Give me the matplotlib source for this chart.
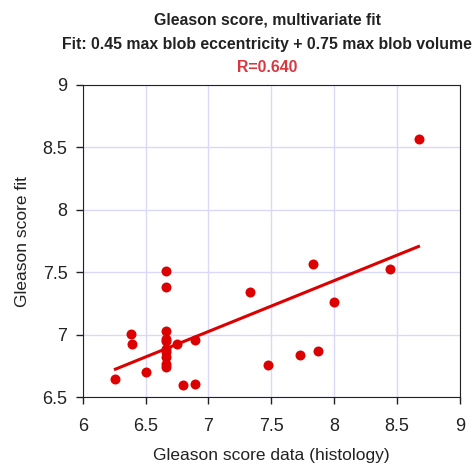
import matplotlib
matplotlib.use("Agg")
import matplotlib.pyplot as plt
import numpy as np

plt.rcParams['font.family'] = ['Liberation Sans', 'DejaVu Sans']

# Gleason score from histology vs. fitted score
gleason_data = [6.26, 6.38, 6.39, 6.50, 6.66, 6.66, 6.66, 6.66, 6.66,
                6.66, 6.66, 6.66, 6.66, 6.66, 6.75, 6.89, 6.80, 6.89,
                8.67, 7.83, 7.33, 8.44, 8.00, 7.47, 7.73, 7.87]
gleason_fit = [6.65, 7.01, 6.93, 6.70, 7.51, 7.38, 7.03, 6.97, 6.95,
               6.89, 6.86, 6.82, 6.77, 6.74, 6.93, 6.96, 6.60, 6.61,
               8.57, 7.57, 7.34, 7.53, 7.26, 6.76, 6.84, 6.87]
title_lines = ["Gleason score, multivariate fit",
               "Fit: 0.45 max blob eccentricity + 0.75 max blob volume"]
r_text = "R=0.640"
xticks = [6, 6.5, 7, 7.5, 8, 8.5, 9]
yticks = [6.5, 7, 7.5, 8, 8.5, 9]

red = "#dd0000"

fig = plt.figure(figsize=(4.74, 4.63), dpi=100)
ax = fig.add_axes([0.1745, 0.1415, 0.796, 0.675])

x = np.array(gleason_data)
y = np.array(gleason_fit)
slope, icpt = np.polyfit(x, y, 1)
xl = np.array([x.min(), x.max()])
ax.plot(xl, slope * xl + icpt, color=red, lw=2.2, zorder=3)
ax.plot(x, y, 'o', color=red, ms=7.2, mec='none', zorder=4)

ax.set_xlim(6, 9)
ax.set_ylim(6.5, 9)
ax.set_xticks(xticks)
ax.set_yticks(yticks)
ax.set_xticklabels([f"{t:g}" for t in xticks])
ax.set_yticklabels([f"{t:g}" for t in yticks])
ax.grid(True, color="#d9d9f7", lw=1)
ax.set_axisbelow(True)
ax.tick_params(direction='out', length=5, width=1, labelsize=13, colors='#222222')
ax.tick_params(axis='x', pad=10)
ax.tick_params(axis='y', pad=6)
for s in ax.spines.values():
    s.set_color('#222222')
ax.set_xlabel("Gleason score data (histology)", fontsize=12.5, color='#222222', labelpad=9)
ax.set_ylabel("Gleason score fit", fontsize=12.5, color='#222222', labelpad=9)

fig.text(0.564, 1 - 20 / 463, title_lines[0], ha='center', va='center',
         fontsize=11.4, fontweight='bold', color='#222222')
fig.text(0.564, 1 - 44 / 463, title_lines[1], ha='center', va='center',
         fontsize=11.4, fontweight='bold', color='#222222')
fig.text(0.564, 1 - 68 / 463, r_text, ha='center', va='center',
         fontsize=11.4, fontweight='bold', color='#d9363e')

fig.savefig("out.png", dpi=100)
